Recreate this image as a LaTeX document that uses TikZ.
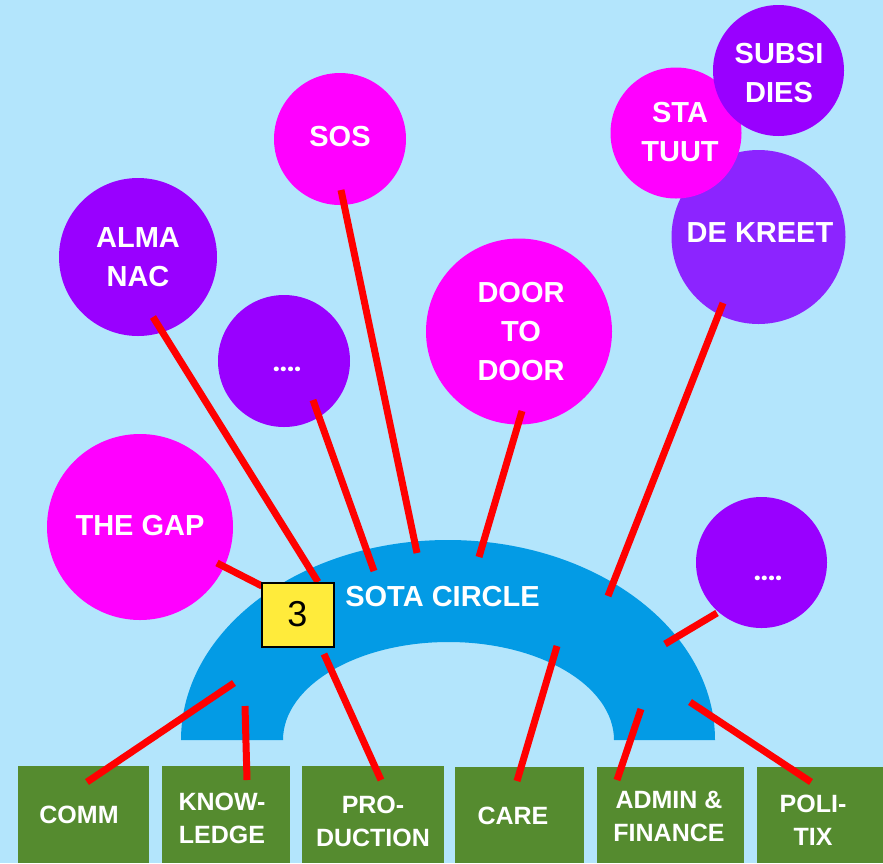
\documentclass[tikz,border=0pt]{standalone}
\usepackage{fontspec}
\setmainfont{Liberation Sans}
\newfontfamily\dotfont{Poppins}
\definecolor{bgc}{HTML}{B3E5FC}
\definecolor{archc}{HTML}{039BE5}
\definecolor{magc}{HTML}{FF00FF}
\definecolor{purc}{HTML}{9900FF}
\definecolor{kreetc}{HTML}{8C24FF}
\definecolor{greenc}{HTML}{558B2F}
\definecolor{yellowc}{HTML}{FFEB3B}
\definecolor{redc}{HTML}{FF0000}
\begin{document}
\begin{tikzpicture}[x=1pt,y=-1pt]
\tikzset{
  bubble/.style={circle, inner sep=0pt, draw=none},
  mag/.style={bubble, fill=magc},
  pur/.style={bubble, fill=purc},
  ctext/.style={text=white, font=\bfseries\fontsize{29}{39}\selectfont, align=center, inner sep=0pt},
  dottext/.style={text=white, font=\dotfont\bfseries\fontsize{25}{25}\selectfont, inner sep=0pt, anchor=base},
  btext/.style={text=white, font=\bfseries\fontsize{25}{33}\selectfont, align=center, inner sep=0pt},
  gbox/.style={fill=greenc, draw=none, inner sep=0pt, anchor=north west, minimum height=97},
  link/.style={draw=redc, line width=7pt},
  numbox/.style={draw=black, fill=yellowc, line width=2pt, minimum width=72, minimum height=64, inner sep=0pt, font=\fontsize{36}{36}\selectfont},
}
\fill[bgc] (0,0) rectangle (883,863);
\useasboundingbox (0,0) rectangle (883,863);

% arch
\fill[archc] (181,740) arc[start angle=180, end angle=360, x radius=267, y radius=200]
  -- (614,740) arc[start angle=360, end angle=180, x radius=165.5, y radius=98] -- cycle;

% circles
\node[mag, minimum size=132] (sos) at (340,139) {};
\node[pur, minimum size=158] (alma) at (138,257) {};
\node[pur, minimum size=132] (dotl) at (284,361) {};
\node[mag, minimum size=186] (door) at (519,331.5) {};
\node[mag, minimum size=186] (gap) at (140,527) {};
\node[bubble, fill=kreetc, minimum size=174] (kreet) at (758.5,237) {};
\node[mag, minimum size=131] (sta) at (676,133) {};
\node[pur, minimum size=131] (subsi) at (778.5,70.5) {};
\node[pur, minimum size=131] (dotr) at (761.5,562.5) {};

% green boxes
\node[gbox, minimum width=131] (comm) at (18,766) {};
\node[gbox, minimum width=128] (know) at (162,766) {};
\node[gbox, minimum width=142] (prod) at (302,766) {};
\node[gbox, minimum width=129, minimum height=96] (care) at (455,767) {};
\node[gbox, minimum width=147, minimum height=96] (admin) at (597,767) {};
\node[gbox, minimum width=126, minimum height=96] (poli) at (757,767) {};

% connector end points
\coordinate (gapA) at (217,563);   \coordinate (gapB) at (262,586);
\coordinate (almaA) at (153,317);  \coordinate (almaB) at (318,582);
\coordinate (dotlA) at (313,400);  \coordinate (dotlB) at (374,571);
\coordinate (sosA) at (341,190);   \coordinate (sosB) at (417,553);
\coordinate (doorA) at (522,411);  \coordinate (doorB) at (479,557);
\coordinate (kreetA) at (723,303); \coordinate (kreetB) at (608,596);
\coordinate (dotrA) at (717,613);  \coordinate (dotrB) at (665,644);
\coordinate (commA) at (234,683);  \coordinate (commB) at (87,782);
\coordinate (knowA) at (245,706);  \coordinate (knowB) at (247,780);
\coordinate (prodA) at (324,654);  \coordinate (prodB) at (381,780);
\coordinate (careA) at (557,646);  \coordinate (careB) at (517,781);
\coordinate (adminA) at (641,709); \coordinate (adminB) at (617,780);
\coordinate (poliA) at (690,702);  \coordinate (poliB) at (811,782);

\draw[link] (gapA) -- (gapB);
\draw[link] (almaA) -- (almaB);
\draw[link] (dotlA) -- (dotlB);
\draw[link] (sosA) -- (sosB);
\draw[link] (doorA) -- (doorB);
\draw[link] (kreetA) -- (kreetB);
\draw[link] (dotrA) -- (dotrB);
\draw[link] (commA) -- (commB);
\draw[link] (knowA) -- (knowB);
\draw[link] (prodA) -- (prodB);
\draw[link] (careA) -- (careB);
\draw[link] (adminA) -- (adminB);
\draw[link] (poliA) -- (poliB);

% number box
\node[numbox] (three) at (297.5,614.5) {3};

% texts
\node[ctext] (sostxt) at (340,137) {SOS};
\node[ctext] (almatxt) at (138,257) {ALMA\\NAC};
\node[ctext] (doortxt) at (521,332) {DOOR\\TO\\DOOR};
\node[ctext] (gaptxt) at (140,526) {THE GAP};
\node[ctext] (statxt) at (680,132.5) {STA\\TUUT};
\node[ctext] (subsitxt) at (779,73) {SUBSI\\DIES};
\node[ctext] (kreettxt) at (760,233) {DE KREET};
\node[ctext] (sotatxt) at (442.5,597) {SOTA CIRCLE};
\node[dottext] (dotltxt) at (287,371.5) {....};
\node[dottext] (dotrtxt) at (768,580.5) {....};

\node[btext] (commtxt) at (79,815) {COMM};
\node[btext] (knowtxt) at (222,818.5) {KNOW-\\LEDGE};
\node[btext] (prodtxt) at (373,821.5) {PRO-\\DUCTION};
\node[btext] (caretxt) at (513,816) {CARE};
\node[btext] (admintxt) at (669,816) {ADMIN \&\\FINANCE};
\node[btext] (politxt) at (813,820) {POLI-\\TIX};
\end{tikzpicture}
\end{document}
